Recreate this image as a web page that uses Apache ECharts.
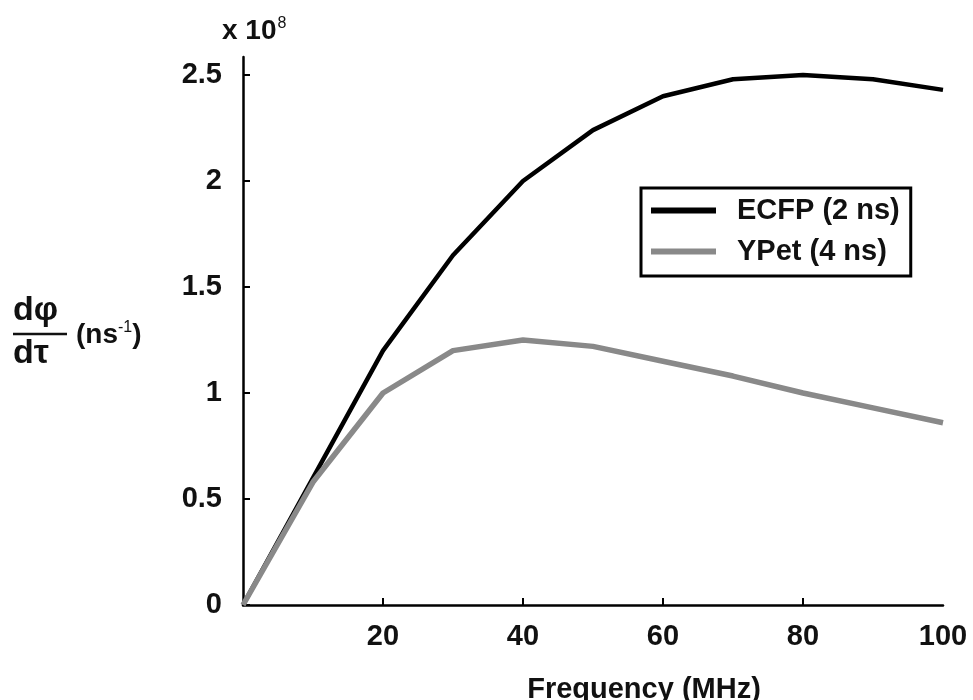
<!DOCTYPE html>
<html><head><meta charset="utf-8">
<script src="https://cdn.jsdelivr.net/npm/echarts@6/dist/echarts.min.js"></script>
<style>html,body{margin:0;padding:0;background:#fff}#c{width:973px;height:700px}</style>
</head><body><div id="c"></div>
<script>
const freq = [0, 10, 20, 30, 40, 50, 60, 70, 80, 90, 100];
const ecfp = [0, 0.6, 1.2, 1.65, 2.0, 2.24, 2.4, 2.48, 2.5, 2.48, 2.43];
const ypet = [0, 0.58, 1.0, 1.2, 1.25, 1.22, 1.15, 1.08, 1.0, 0.93, 0.86];
const yTicks = [0, 0.5, 1, 1.5, 2, 2.5];
const xTicks = [20, 40, 60, 80];
const xLabels = [20, 40, 60, 80, 100];
const seriesNames = ['ECFP (2 ns)', 'YPet (4 ns)'];

const FONT = '"Liberation Sans",Arial,sans-serif';
const chart = echarts.init(document.getElementById('c'), null, {renderer: 'canvas'});
chart.setOption({
  animation: false,
  backgroundColor: '#fff',
  grid: {left: 243, right: 30, top: 57, bottom: 95, containLabel: false, outerBoundsMode: 'none'},
  xAxis: {
    type: 'value', min: 0, max: 100, interval: 20,
    axisLine: {lineStyle: {color: '#000', width: 2.5}},
    axisTick: {inside: true, length: 7, lineStyle: {color: '#000', width: 2}, customValues: xTicks},
    axisLabel: {customValues: xLabels, margin: 17, color: '#111', fontFamily: FONT, fontWeight: 'bold', fontSize: 29},
    splitLine: {show: false},
    name: 'Frequency (MHz)', nameLocation: 'middle', nameGap: 70,
    nameTextStyle: {color: '#111', fontFamily: FONT, fontWeight: 'bold', fontSize: 29, padding: [0, 0, 0, 102]}
  },
  yAxis: {
    type: 'value', min: 0, max: 2.585,
    axisLine: {show: true, lineStyle: {color: '#000', width: 2.5}},
    axisTick: {show: true, inside: true, length: 7, lineStyle: {color: '#000', width: 2}, customValues: yTicks},
    axisLabel: {customValues: yTicks, margin: 21, color: '#111', fontFamily: FONT, fontWeight: 'bold', fontSize: 29},
    splitLine: {show: false}
  },
  legend: {
    orient: 'vertical', left: 641, top: 188,
    data: seriesNames,
    icon: 'rect', itemWidth: 65, itemHeight: 6, itemGap: 12,
    borderColor: '#000', borderWidth: 3, padding: [8, 11, 10, 10],
    textStyle: {color: '#111', fontFamily: FONT, fontWeight: 'bold', fontSize: 29, lineHeight: 29, padding: [0, 0, 0, 16]}
  },
  series: [
    {name: seriesNames[0], type: 'line', data: freq.map((f, i) => [f, ecfp[i]]),
     showSymbol: false, lineStyle: {color: '#000', width: 4.5}, itemStyle: {color: '#000'}},
    {name: seriesNames[1], type: 'line', data: freq.map((f, i) => [f, ypet[i]]),
     showSymbol: false, lineStyle: {color: '#898989', width: 5.5}, itemStyle: {color: '#898989'}}
  ],
  graphic: [
    {type: 'text', left: 222, top: 16, style: {
      rich: {a: {fontFamily: FONT, fontWeight: 'bold', fontSize: 28, fill: '#111'},
             s: {fontFamily: FONT, fontSize: 16, fill: '#111', padding: [0, 0, 14, 1]}},
      text: '{a|x 10}{s|8}'}},
    {type: 'text', left: 13, top: 294, style: {text: 'dφ', fontFamily: FONT, fontWeight: 'bold', fontSize: 34, fill: '#111'}},
    {type: 'line', shape: {x1: 13, y1: 334, x2: 67, y2: 334}, style: {stroke: '#111', lineWidth: 2.5}},
    {type: 'text', left: 13, top: 337, style: {text: 'dτ', fontFamily: FONT, fontWeight: 'bold', fontSize: 34, fill: '#111'}},
    {type: 'text', left: 76, top: 320, style: {
      rich: {a: {fontFamily: FONT, fontWeight: 'bold', fontSize: 28, fill: '#111'},
             s: {fontFamily: FONT, fontSize: 16, fill: '#111', padding: [0, 0, 14, 0]}},
      text: '{a|(ns}{s|-1}{a|)}'}}
  ]
});
</script></body></html>
